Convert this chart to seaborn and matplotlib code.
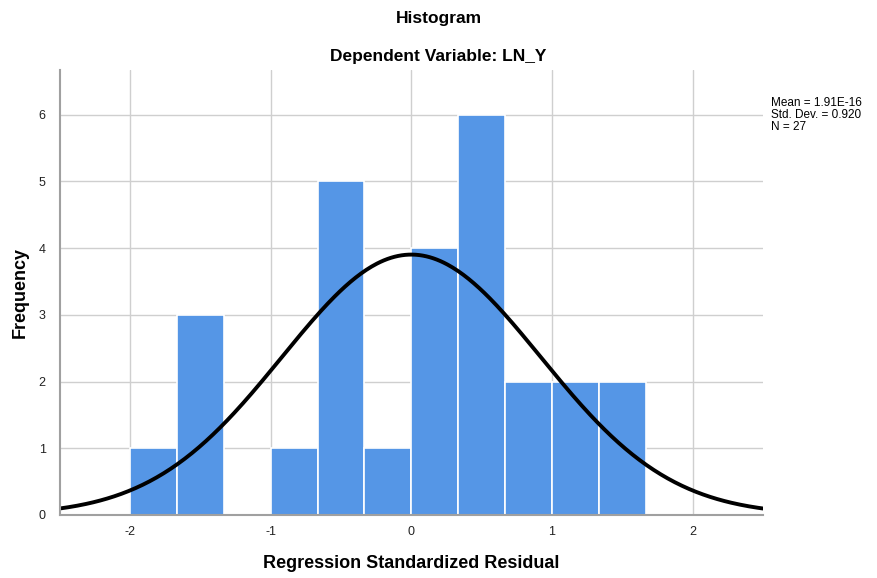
import numpy as np
import pandas as pd
import matplotlib
matplotlib.use("Agg")
import matplotlib.pyplot as plt
import seaborn as sns

# histogram bins (width 1/3)
bin_edges = [-2.0, -5/3, -4/3, -1.0, -2/3, -1/3, 0.0, 1/3, 2/3, 1.0, 4/3, 5/3]
counts = [1, 3, 0, 1, 5, 1, 4, 6, 2, 2, 2]
mean_val = 1.91e-16
std_val = 0.920
n_obs = 27

sns.set_style("white")
plt.rcParams['font.family'] = ['Liberation Sans', 'DejaVu Sans']
plt.rcParams['text.color'] = 'black'
plt.rcParams['axes.labelcolor'] = 'black'

centers = [(a + b) / 2 for a, b in zip(bin_edges[:-1], bin_edges[1:])]
df = pd.DataFrame({'resid': centers, 'count': counts})

fig = plt.figure(figsize=(8.77, 5.78), dpi=100)
ax = fig.add_axes([0.068, 0.109, 0.802, 0.77])

ax.grid(True, color='#cfcfcf', linewidth=1.0)
ax.set_axisbelow(True)

sns.histplot(data=df, x='resid', weights='count', bins=bin_edges, ax=ax,
             color='#5596e6', alpha=1.0, edgecolor='white', linewidth=1.2)

# normal curve scaled to the histogram
bw = bin_edges[1] - bin_edges[0]
xs = np.linspace(-2.5, 2.5, 400)
ys = n_obs * bw * np.exp(-0.5 * ((xs - mean_val) / std_val) ** 2) / (std_val * np.sqrt(2 * np.pi))
sns.lineplot(x=xs, y=ys, ax=ax, color='black', linewidth=2.8)

ax.set_xlim(-2.5, 2.5)
ax.set_ylim(0, 6.67)
ax.set_xticks([-2, -1, 0, 1, 2])
ax.set_xticklabels(['-2', '-1', '0', '1', '2'])
ax.set_yticks(range(0, 7))
ax.tick_params(length=0, labelsize=9, colors='#222222', pad=8)
ax.tick_params(axis='y', pad=10)

for s in ['top', 'right']:
    ax.spines[s].set_visible(False)
for s in ['left', 'bottom']:
    ax.spines[s].set_color('#a0a0a0')
    ax.spines[s].set_linewidth(1.5)

ax.set_xlabel('Regression Standardized Residual', fontsize=13, fontweight='bold', labelpad=12)
ax.set_ylabel('Frequency', fontsize=13, fontweight='bold', labelpad=7)

fig.text(0.5, 0.968, 'Histogram', ha='center', va='center', fontsize=12.5, fontweight='bold')
fig.text(0.5, 0.903, 'Dependent Variable: LN_Y', ha='center', va='center', fontsize=12.5, fontweight='bold')

fig.text(0.879, 0.801, 'Mean = 1.91E-16\nStd. Dev. = 0.920\nN = 27', ha='left', va='center',
         fontsize=8.5, linespacing=1.05)

fig.savefig('out.png', dpi=100)
